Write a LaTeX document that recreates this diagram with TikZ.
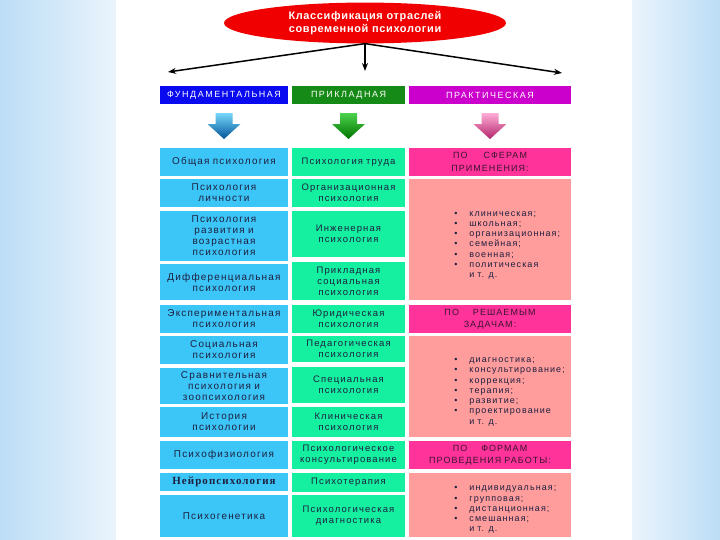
\documentclass[tikz,border=0pt]{standalone}
\usepackage{fontspec}
\setmainfont{Liberation Sans}
\newfontfamily\cellfont[LetterSpace=12]{Liberation Sans}
\newfontfamily\headfont[LetterSpace=17]{Liberation Sans}
\newfontfamily\titlefont[LetterSpace=6]{Liberation Sans}
\newfontfamily\serifcell[LetterSpace=10]{Liberation Serif}
\usepackage{tikz}
\usetikzlibrary{arrows.meta,positioning,calc,shapes.geometric}
\definecolor{SideBlue}{HTML}{BCDDF6}
\definecolor{SideFade}{HTML}{EAF4FC}
\definecolor{TitleRed}{HTML}{F00000}
\definecolor{FundBlue}{HTML}{0A0AF0}
\definecolor{ApplGreen}{HTML}{168A16}
\definecolor{PractPurple}{HTML}{CC00CC}
\definecolor{CellBlue}{HTML}{3CC6F8}
\definecolor{CellGreen}{HTML}{14F0A0}
\definecolor{TopicPink}{HTML}{FF3399}
\definecolor{ListPink}{HTML}{FF9C9C}
\definecolor{CellText}{HTML}{1E2040}
\definecolor{TopicText}{HTML}{3A1430}

\begin{document}
\begin{tikzpicture}[
  x=1bp,y=-1bp,
  >={Stealth[length=8bp,width=6bp]},
  title/.style={ellipse, fill=TitleRed, inner sep=0, minimum width=283, minimum height=41, align=center, text=white, font=\titlefont\bfseries\fontsize{11}{12.5}\selectfont},
  head/.style={inner sep=0, minimum height=18, text=white, font=\headfont\fontsize{9}{10}\selectfont},
  fcell/.style={fill=CellBlue, text width=128, inner sep=0, align=center, text=CellText, font=\cellfont\fontsize{10}{11}\selectfont},
  pcell/.style={fill=CellGreen, text width=113, inner sep=0, align=center, text=CellText, font=\cellfont\fontsize{9.5}{11}\selectfont},
  topic/.style={fill=TopicPink, text width=162, inner sep=0, minimum height=28, align=center, text=TopicText, font=\cellfont\fontsize{9}{12.5}\selectfont},
  listbox/.style={fill=ListPink, text width=162, inner sep=0, text=CellText, font=\cellfont\fontsize{9}{10.3}\selectfont},
  thinarrow/.style={->, line width=1.5bp, draw=black},
  pics/fatarrow/.style 2 args={code={
    \shade[top color=#1, bottom color=#2] (-8.5,-13) -- (8.5,-13) -- (8.5,-2) -- (16.5,-2) -- (0,13) -- (-16.5,-2) -- (-8.5,-2) -- cycle;}}
]

% page and side bands
\useasboundingbox (0,0) rectangle (720,540);
\shade[left color=SideBlue, right color=SideFade] (0,0) rectangle (116,540);
\shade[left color=SideFade, right color=SideBlue] (632,0) rectangle (720,540);
\fill[white] (116,0) rectangle (632,540);

\node[title] (top) at (365,23) {Классификация отраслей\\современной психологии};

\node[head, fill=FundBlue, minimum width=128] (hF) at (224,95) {ФУНДАМЕНТАЛЬНАЯ};
\node[head, fill=ApplGreen, minimum width=113] (hP) at (348.5,95) {ПРИКЛАДНАЯ};
\node[head, fill=PractPurple, minimum width=162] (hR) at (490,95) {ПРАКТИЧЕСКАЯ};

\coordinate (eF) at (168,72);
\coordinate (eP) at (365,71);
\coordinate (eR) at (562,73);
\draw[thinarrow] (top.south) -- (eF);
\draw[thinarrow] (top.south) -- (eP);
\draw[thinarrow] (top.south) -- (eR);

% fundamental column
\node[fcell, minimum height=28] (f1) at (224,162) {Общая психология};
\node[fcell, minimum height=28] (f2) at (224,193) {Психология\\личности};
\node[fcell, minimum height=50] (f3) at (224,236) {Психология\\развития и\\возрастная\\психология};
\node[fcell, minimum height=36] (f4) at (224,282) {Дифференциальная\\психология};
\node[fcell, minimum height=28] (f5) at (224,319) {Экспериментальная\\психология};
\node[fcell, minimum height=28] (f6) at (224,350) {Социальная\\психология};
\node[fcell, minimum height=36] (f7) at (224,386) {Сравнительная\\психология и\\зоопсихология};
\node[fcell, minimum height=30] (f8) at (224,422) {История\\психологии};
\node[fcell, minimum height=28] (f9) at (224,455) {Психофизиология};
\node[fcell, minimum height=18, font=\serifcell\bfseries\fontsize{11}{11}\selectfont] (f10) at (224,482) {Нейропсихология};
\node[fcell, minimum height=42] (f11) at (224,516) {Психогенетика};

% applied column
\node[pcell, minimum height=28] (p1) at (348.5,162) {Психология труда};
\node[pcell, minimum height=28] (p2) at (348.5,193) {Организационная\\психология};
\node[pcell, minimum height=46] (p3) at (348.5,234) {Инженерная\\психология};
\node[pcell, minimum height=38] (p4) at (348.5,281) {Прикладная\\социальная\\психология};
\node[pcell, minimum height=28] (p5) at (348.5,319) {Юридическая\\психология};
\node[pcell, minimum height=26] (p6) at (348.5,349) {Педагогическая\\психология};
\node[pcell, minimum height=36] (p7) at (348.5,385) {Специальная\\психология};
\node[pcell, minimum height=30] (p8) at (348.5,422) {Клиническая\\психология};
\node[pcell, minimum height=28] (p9) at (348.5,455) {Психологическое\\консультирование};
\node[pcell, minimum height=19] (p10) at (348.5,482.5) {Психотерапия};
\node[pcell, minimum height=42] (p11) at (348.5,516) {Психологическая\\диагностика};

% practical column
\node[topic] (r1) at (490,162) {ПО\hspace{16bp}СФЕРАМ\\ПРИМЕНЕНИЯ:};
\node[listbox, minimum height=121] (r2) at (490,239.5) {\hspace*{45bp}\raisebox{-7.5bp}[0pt][0pt]{\begin{tabular}{@{}l@{\hspace{12bp}}l@{}}
  \textbullet & клиническая;\\ \textbullet & школьная;\\ \textbullet & организационная;\\
  \textbullet & семейная;\\ \textbullet & военная;\\ \textbullet & политическая\\ & и т. д.
\end{tabular}}};
\node[topic] (r3) at (490,319) {ПО\hspace{14bp}РЕШАЕМЫМ\\ЗАДАЧАМ:};
\node[listbox, minimum height=101] (r4) at (490,386.5) {\hspace*{45bp}\raisebox{-7bp}[0pt][0pt]{\begin{tabular}{@{}l@{\hspace{12bp}}l@{}}
  \textbullet & диагностика;\\ \textbullet & консультирование;\\ \textbullet & коррекция;\\
  \textbullet & терапия;\\ \textbullet & развитие;\\ \textbullet & проектирование\\ & и т. д.
\end{tabular}}};
\node[topic] (r5) at (490,455) {ПО\hspace{14bp}ФОРМАМ\\ПРОВЕДЕНИЯ РАБОТЫ:};
\node[listbox, minimum height=64] (r6) at (490,505) {\hspace*{45bp}\raisebox{-6.5bp}[0pt][0pt]{\begin{tabular}{@{}l@{\hspace{12bp}}l@{}}
  \textbullet & индивидуальная;\\ \textbullet & групповая;\\ \textbullet & дистанционная;\\
  \textbullet & смешанная;\\ & и т. д.
\end{tabular}}};

\pic at ($(hF.south)!.5!(f1.north)$) {fatarrow={CellBlue!70!white}{blue!45!cyan!60!black}};
\pic at ($(hP.south)!.5!(p1.north)$) {fatarrow={green!75!black!70!white}{green!45!black}};
\pic at ($(hR.south)!.5!(r1.north)$) {fatarrow={TopicPink!40!white}{TopicPink!70!black}};

\end{tikzpicture}
\end{document}
